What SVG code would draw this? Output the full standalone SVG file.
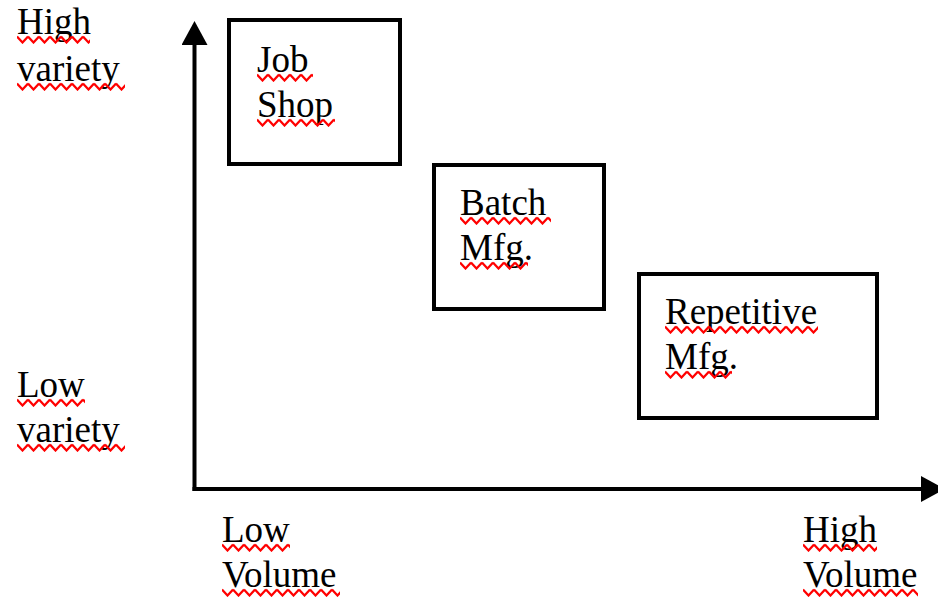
<svg xmlns="http://www.w3.org/2000/svg" width="938" height="599" viewBox="0 0 938 599">
<style>
text{font-family:"Liberation Serif","Times New Roman",serif;font-size:37px;fill:#000}
.box{fill:#fff;stroke:#000;stroke-width:4}
.axis{stroke:#000;stroke-width:4;fill:none}
</style>
<defs>
<marker id="ah" markerUnits="userSpaceOnUse" markerWidth="24" markerHeight="26" viewBox="0 0 24 26" refX="1" refY="13" orient="auto">
<path d="M0,0 L24,13 L0,26 z" fill="#000"/>
</marker>
<pattern id="sq" patternUnits="userSpaceOnUse" width="11" height="9">
<polyline points="0,1.5 5.5,7.5 11,1.5" fill="none" stroke="#f00" stroke-width="2.2"/>
</pattern>
</defs>
<rect width="938" height="599" fill="#fff"/>
<g id="connectors">
<line class="axis" x1="194.5" y1="491" x2="194.5" y2="44" marker-end="url(#ah)"/>
<line class="axis" x1="192.5" y1="489" x2="922" y2="489" marker-end="url(#ah)"/>
</g>
<g id="job-shop">
<rect class="box" x="229" y="20" width="171" height="144"/>
<text x="257" y="72">Job</text>
<text x="257" y="117">Shop</text>
</g>
<g id="batch-mfg">
<rect class="box" x="434" y="165" width="170" height="144"/>
<text x="460" y="215">Batch</text>
<text x="460" y="260">Mfg.</text>
</g>
<g id="repetitive-mfg">
<rect class="box" x="639" y="274" width="238" height="144"/>
<text x="665" y="324">Repetitive</text>
<text x="665" y="369">Mfg.</text>
</g>
<g id="axis-labels">
<text x="17" y="34">High</text>
<text x="17" y="81">variety</text>
<text x="17" y="397">Low</text>
<text x="17" y="442">variety</text>
<text x="222" y="542">Low</text>
<text x="222" y="587">Volume</text>
<text x="803" y="542">High</text>
<text x="803" y="587">Volume</text>
</g>
<g id="spelling-marks" fill="url(#sq)">
<rect transform="translate(17,35)" width="73" height="9"/>
<rect transform="translate(17,82)" width="108" height="9"/>
<rect transform="translate(17,398)" width="68" height="9"/>
<rect transform="translate(17,443)" width="108" height="9"/>
<rect transform="translate(257,73)" width="56" height="9"/>
<rect transform="translate(257,118)" width="78" height="9"/>
<rect transform="translate(460,216)" width="91" height="9"/>
<rect transform="translate(460,261)" width="68" height="9"/>
<rect transform="translate(665,325)" width="153" height="9"/>
<rect transform="translate(665,370)" width="67" height="9"/>
<rect transform="translate(222,543)" width="68" height="9"/>
<rect transform="translate(222,588)" width="118" height="9"/>
<rect transform="translate(803,543)" width="74" height="9"/>
<rect transform="translate(803,588)" width="115" height="9"/>
</g>
</svg>
